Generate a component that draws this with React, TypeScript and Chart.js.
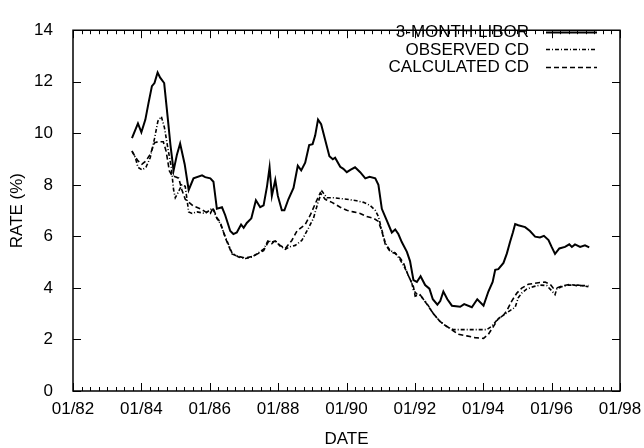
import React, { useEffect, useRef } from "react";
import { Chart, registerables } from "chart.js";

Chart.register(...registerables);

// Months are counted from 01/82 (month 0).
const xTickMonths = [0, 24, 48, 72, 96, 120, 144, 168, 192];
const xTickLabels = ["01/82", "01/84", "01/86", "01/88", "01/90", "01/92", "01/94", "01/96", "01/98"];
const yTickValues = [0, 2, 4, 6, 8, 10, 12, 14];

const seriesLabels = ["3-MONTH LIBOR", "OBSERVED CD", "CALCULATED CD"];

const liborMonths = [
  20.7, 22.8, 24.0, 25.4, 26.5, 27.7, 28.6, 29.7, 30.6, 32.0, 33.2, 34.2, 35.3, 36.5, 37.6, 39.2,
  40.6, 42.3, 45.3, 46.4, 48.2, 49.3, 50.5, 52.3, 53.4, 55.2, 56.3, 57.5, 59.0, 59.9, 61.0, 62.6,
  64.2, 65.7, 66.9, 68.1, 69.0, 69.8, 71.0, 71.9, 73.3, 74.2, 75.6, 77.4, 78.9, 80.1, 81.5, 82.9,
  84.1, 85.0, 86.0, 87.1, 88.5, 90.0, 91.2, 92.0, 93.8, 94.9, 96.1, 97.5, 99.0, 100.8, 102.6, 104.1,
  106.1, 107.2, 108.4, 110.2, 111.9, 113.1, 114.2, 115.4, 117.2, 118.3, 119.5, 120.7, 122.0, 123.6,
  125.1, 126.3, 127.9, 128.9, 130.0, 131.4, 133.0, 135.9, 137.3, 140.0, 141.9, 144.1, 145.8, 147.3,
  148.2, 149.3, 151.1, 152.3, 153.4, 154.4, 155.2, 156.3, 158.7, 160.4, 162.2, 163.9, 165.3, 166.9,
  168.0, 169.2, 170.7, 172.7, 174.2, 175.1, 176.2, 178.0, 179.7, 181.2,
];
const liborRates = [
  9.81, 10.38, 10.04, 10.53, 11.17, 11.83, 11.95, 12.36, 12.16, 11.95, 10.66, 9.55, 8.55, 9.18, 9.6, 8.8,
  7.8, 8.25, 8.37, 8.3, 8.25, 8.12, 7.07, 7.13, 6.83, 6.21, 6.09, 6.15, 6.46, 6.33, 6.52, 6.7,
  7.4, 7.13, 7.2, 7.94, 8.68, 7.57, 8.19, 7.57, 7.01, 7.01, 7.44, 7.88, 8.74, 8.56, 8.86, 9.54,
  9.58, 9.91, 10.53, 10.35, 9.75, 9.11, 8.99, 9.05, 8.7, 8.62, 8.49, 8.59, 8.68, 8.49, 8.25, 8.31,
  8.25, 8.0, 7.07, 6.6, 6.15, 6.27, 6.09, 5.78, 5.4, 5.04, 4.3, 4.23, 4.45, 4.11,
  3.97, 3.56, 3.35, 3.49, 3.86, 3.56, 3.31, 3.27, 3.37, 3.25, 3.56, 3.31, 3.86, 4.23,
  4.7, 4.73, 4.97, 5.34, 5.78, 6.15, 6.48, 6.43, 6.36, 6.21, 5.99, 5.96, 6.02, 5.86,
  5.59, 5.32, 5.53, 5.59, 5.69, 5.59, 5.69, 5.59, 5.65, 5.57,
];

const observedMonths = [
  20.7, 21.9, 22.8, 24.2, 25.6, 27.1, 28.6, 29.8, 31.0, 32.1, 33.3, 34.5, 35.3, 35.9, 37.1, 38.2,
  39.4, 40.6, 41.8, 43.5, 46.4, 49.0, 50.5, 51.7, 53.4, 55.8, 58.1, 60.5, 62.8, 65.1, 66.9, 68.6,
  69.8, 71.0, 72.7, 74.5, 76.2, 78.0, 80.3, 82.7, 84.4, 86.0, 87.4, 89.1, 91.4, 96.1, 99.6, 102.0,
  104.3, 106.1, 107.2, 108.4, 109.6, 111.3, 113.1, 114.8, 116.6, 117.7, 118.9, 119.5, 120.7, 121.8,
  124.2, 126.5, 128.9, 131.2, 133.5, 145.2, 147.0, 148.8, 151.1, 153.4, 155.2, 156.3, 157.5, 159.3,
  161.6, 163.9, 166.3, 168.0, 169.2, 169.8, 171.6, 173.9, 177.3, 180.9,
];
const observedRates = [
  9.32, 9.05, 8.68, 8.58, 8.68, 9.05, 9.79, 10.47, 10.65, 10.22, 9.42, 8.68, 7.81, 7.5, 7.75, 8.0,
  7.94, 6.95, 6.89, 6.95, 6.89, 7.1, 6.7, 6.5, 6.0, 5.36, 5.2, 5.14, 5.2, 5.36, 5.5, 5.86,
  5.72, 5.84, 5.62, 5.5, 5.6, 5.65, 5.84, 6.33, 6.7, 7.32, 7.75, 7.5, 7.5, 7.44, 7.38, 7.32,
  7.2, 7.01, 6.77, 6.25, 5.75, 5.45, 5.36, 5.1, 4.75, 4.48, 4.2, 3.9, 3.76, 3.72,
  3.4, 3.0, 2.69, 2.5, 2.38, 2.38, 2.51, 2.75, 2.94, 3.12, 3.25, 3.62, 3.8, 3.96,
  4.05, 4.11, 4.09, 3.89, 3.74, 3.96, 4.05, 4.11, 4.11, 4.05,
];

const calculatedMonths = [
  20.7, 22.8, 24.2, 25.6, 27.1, 28.6, 29.8, 31.7, 32.7, 33.8, 34.7, 35.9, 37.1, 38.2, 39.4, 40.6,
  42.2, 44.7, 46.4, 48.2, 49.2, 50.5, 51.7, 53.4, 55.8, 58.1, 60.5, 62.8, 65.1, 66.9, 68.6, 69.8,
  71.0, 72.7, 74.5, 76.8, 78.6, 81.5, 83.3, 85.0, 86.8, 88.5, 90.9, 93.8, 96.1, 98.4, 100.8, 103.1,
  105.5, 107.2, 108.4, 109.6, 111.3, 113.1, 114.8, 116.0, 117.7, 119.5, 120.1, 121.8, 124.2, 126.5,
  128.9, 131.2, 135.3, 138.2, 141.1, 144.1, 145.8, 147.6, 149.3, 151.1, 152.3, 154.0, 155.8, 157.5,
  159.8, 161.6, 163.9, 165.7, 167.5, 168.6, 169.8, 172.1, 174.5, 176.8, 180.9,
];
const calculatedRates = [
  9.3, 8.93, 8.8, 8.93, 9.18, 9.63, 9.67, 9.67, 9.3, 8.55, 8.37, 8.31, 8.26, 7.81, 7.44, 7.33,
  7.18, 7.07, 6.96, 6.89, 7.1, 6.72, 6.55, 5.96, 5.32, 5.22, 5.16, 5.22, 5.34, 5.45, 5.8, 5.78,
  5.82, 5.65, 5.53, 5.84, 6.21, 6.46, 6.83, 7.26, 7.69, 7.44, 7.32, 7.13, 7.01, 6.95, 6.89, 6.77,
  6.7, 6.58, 6.2, 5.7, 5.41, 5.34, 5.16, 4.97, 4.48, 4.05, 3.68, 3.74, 3.37, 3.0,
  2.69, 2.51, 2.2, 2.14, 2.07, 2.04, 2.2, 2.51, 2.81, 2.94, 3.12, 3.49, 3.8, 3.99,
  4.14, 4.17, 4.21, 4.23, 4.14, 3.99, 4.0, 4.09, 4.14, 4.09, 4.09,
];

const FONT_FAMILY = "'Liberation Sans', Arial, Helvetica, sans-serif";
const FONT_SIZE = 17;

const toPoints = (months: number[], rates: number[]) =>
  months.map((m, i) => ({ x: m, y: rates[i] }));

const dashPatterns: number[][] = [[], [4, 2, 1, 2], [5, 3]];
const lineWidths = [2, 1.6, 1.6];

const legendRowY = [31.5, 49, 66.5];

const framePlugin = {
  id: "gnuplotFrame",
  afterDraw(chart: any) {
    const { ctx, chartArea, scales } = chart;
    const { left, right, top, bottom } = chartArea;
    const xs = scales.x;
    const ys = scales.y;
    ctx.save();
    ctx.strokeStyle = "#000";
    ctx.setLineDash([]);
    ctx.lineWidth = 1.5;
    ctx.beginPath();
    ctx.rect(left, top, right - left, bottom - top);
    ctx.stroke();

    const major = 8;
    const minor = 4;
    ctx.lineWidth = 1;
    ctx.beginPath();
    for (let m = xs.min; m <= xs.max; m += 3) {
      const px = Math.round(xs.getPixelForValue(m)) + 0.5;
      const len = xTickMonths.includes(m) ? major : minor;
      ctx.moveTo(px, bottom);
      ctx.lineTo(px, bottom - len);
      ctx.moveTo(px, top);
      ctx.lineTo(px, top + len);
    }
    yTickValues.forEach((v) => {
      const py = Math.round(ys.getPixelForValue(v)) + 0.5;
      ctx.moveTo(left, py);
      ctx.lineTo(left + major, py);
      ctx.moveTo(right, py);
      ctx.lineTo(right - major, py);
    });
    ctx.stroke();

    // legend inside the plot, top right
    const textRight = right - 91;
    const lineStart = right - 74;
    const lineEnd = right - 23;
    seriesLabels.forEach((_, i) => {
      const y = Math.round(legendRowY[i]) + 0.5;
      ctx.beginPath();
      ctx.lineWidth = lineWidths[i];
      ctx.setLineDash(dashPatterns[i]);
      ctx.moveTo(lineStart, y);
      ctx.lineTo(lineEnd, y);
      ctx.stroke();
    });
    ctx.setLineDash([]);
    ctx.font = `${FONT_SIZE}px ${FONT_FAMILY}`;
    ctx.textAlign = "right";
    ctx.textBaseline = "middle";
    ctx.fillStyle = "#000";
    seriesLabels.forEach((label, i) => {
      ctx.fillText(label, textRight, legendRowY[i] + 1);
    });
    ctx.restore();
  },
};

export default function App() {
  const canvasRef = useRef<HTMLCanvasElement | null>(null);

  useEffect(() => {
    const canvas = canvasRef.current;
    if (!canvas) return;
    const font = { family: FONT_FAMILY, size: FONT_SIZE };
    const makeSet = (i: number, months: number[], rates: number[]) => ({
      label: seriesLabels[i],
      data: toPoints(months, rates),
      borderColor: "#000",
      borderWidth: lineWidths[i],
      borderDash: dashPatterns[i],
      pointRadius: 0,
      tension: 0,
      fill: false,
    });
    const chart = new Chart(canvas, {
      type: "line",
      data: {
        datasets: [
          makeSet(0, liborMonths, liborRates),
          makeSet(1, observedMonths, observedRates),
          makeSet(2, calculatedMonths, calculatedRates),
        ],
      },
      options: {
        responsive: false,
        animation: false,
        events: [],
        layout: { padding: { left: 0, right: 24, top: 13, bottom: 0 } },
        plugins: {
          legend: { display: false },
          tooltip: { enabled: false },
        },
        scales: {
          x: {
            type: "linear",
            min: 0,
            max: 192,
            afterBuildTicks: (scale: any) => {
              scale.ticks = xTickMonths.map((v) => ({ value: v }));
            },
            afterFit: (scale: any) => {
              scale.height = 57;
              scale.paddingLeft = 0;
              scale.paddingRight = 0;
            },
            ticks: {
              autoSkip: false,
              maxRotation: 0,
              color: "#000",
              font,
              padding: 8,
              callback: (v: any) => xTickLabels[xTickMonths.indexOf(Number(v))] ?? "",
            },
            grid: { display: false, drawTicks: false },
            border: { display: false },
            title: {
              display: true,
              text: "DATE",
              color: "#000",
              font,
              padding: { top: 0, bottom: -2 },
            },
          },
          y: {
            type: "linear",
            min: 0,
            max: 14,
            afterBuildTicks: (scale: any) => {
              scale.ticks = yTickValues.map((v) => ({ value: v }));
            },
            afterFit: (scale: any) => {
              scale.width = 73;
            },
            ticks: {
              color: "#000",
              font,
              padding: 20,
            },
            grid: { display: false, drawTicks: false },
            border: { display: false },
            title: {
              display: true,
              text: "RATE (%)",
              color: "#000",
              font,
              padding: { top: 7, bottom: 0 },
            },
          },
        },
      },
      plugins: [framePlugin],
    });
    return () => chart.destroy();
  }, []);

  return (
    <div style={{ position: "absolute", left: 0, top: 0, width: 644, height: 448, background: "#fff" }}>
      <canvas ref={canvasRef} width={644} height={448} style={{ display: "block" }} />
    </div>
  );
}
